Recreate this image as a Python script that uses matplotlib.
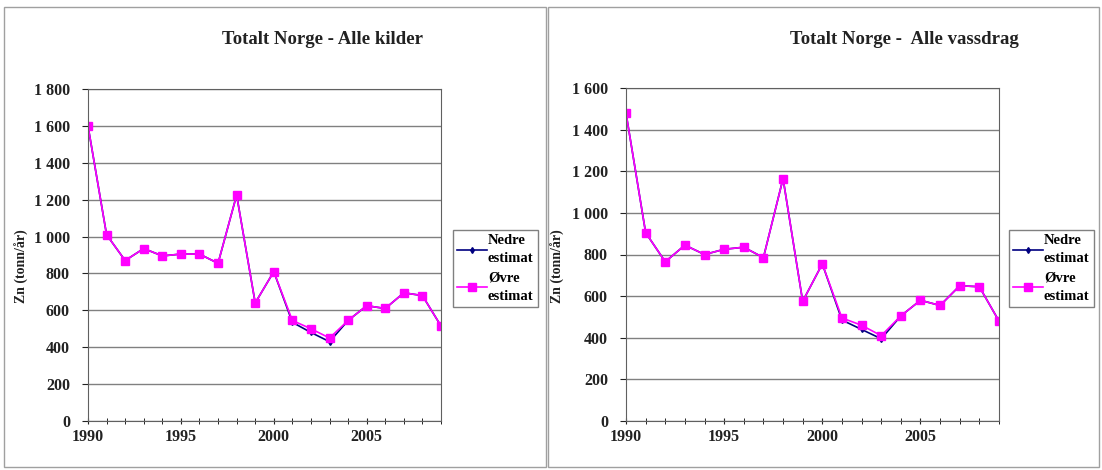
import numpy as np
import matplotlib.pyplot as plt
from matplotlib.patches import Rectangle
from matplotlib.ticker import FuncFormatter, MultipleLocator

# years
years = np.arange(1990, 2010)

# Totalt Norge - Alle kilder (tonn/år)
kilder_ovre = [1600, 1010, 870, 935, 895, 905, 905, 855, 1225, 640,
               810, 545, 500, 450, 545, 625, 610, 695, 680, 515]
kilder_nedre = [1600, 1010, 870, 935, 895, 905, 905, 855, 1225, 640,
                810, 535, 480, 430, 545, 625, 610, 695, 680, 515]

# Totalt Norge - Alle vassdrag (tonn/år)
vassdrag_ovre = [1480, 905, 765, 845, 800, 825, 835, 785, 1165, 575,
                 755, 495, 460, 410, 505, 580, 555, 650, 645, 480]
vassdrag_nedre = [1480, 905, 765, 845, 800, 825, 835, 785, 1165, 575,
                  755, 485, 440, 395, 505, 580, 555, 650, 645, 480]

titles = ["Totalt Norge - Alle kilder", "Totalt Norge -  Alle vassdrag"]
ylabel = "Zn (tonn/år)"
xticks = [1990, 1995, 2000, 2005]

plt.rcParams['font.family'] = ['Liberation Serif', 'DejaVu Serif']
plt.rcParams['font.weight'] = 'bold'

W, H = 1102, 470
fig = plt.figure(figsize=(W / 100, H / 100), dpi=100)


def px(x0, y0, x1, y1):
    # pixel box -> figure fraction [left, bottom, width, height]
    return [x0 / W, 1 - y1 / H, (x1 - x0) / W, (y1 - y0) / H]


# panel borders
for bx in [(4, 7, 546, 467), (548, 7, 1099, 467)]:
    l, b, w, h = px(*bx)
    fig.patches.append(Rectangle((l, b), w, h, transform=fig.transFigure,
                                 fill=False, edgecolor='#a0a0a0', lw=1))

fmt = FuncFormatter(lambda v, p: f"{int(v):,}".replace(",", " "))

panels = [
    (px(88, 89, 441, 421), kilder_nedre, kilder_ovre, 1800, 322, 22, 453),
    (px(626, 88, 999, 421), vassdrag_nedre, vassdrag_ovre, 1600, 904, 558, 1009),
]

for i, (box, nedre, ovre, ymax, tx, lx, legx) in enumerate(panels):
    ax = fig.add_axes(box)
    ax.plot(years, nedre, color='#000080', marker='d', markersize=3,
            lw=1.2, label='Nedre\nestimat')
    ax.plot(years, ovre, color='#ff00ff', marker='s', markersize=5.5,
            lw=1.2, label='Øvre\nestimat')
    ax.set_xlim(1990, 2009)
    ax.set_ylim(0, ymax)
    ax.yaxis.set_major_locator(MultipleLocator(200))
    ax.yaxis.set_major_formatter(fmt)
    ax.set_xticks(xticks)
    ax.xaxis.set_minor_locator(MultipleLocator(1))
    ax.tick_params(axis='both', labelsize=11.5, colors='#222222', length=4,
                   direction='out')
    ax.tick_params(axis='y', pad=9)
    ax.tick_params(axis='x', which='both', direction='inout', length=5)
    ax.grid(axis='y', color='#808080', lw=1)
    for s in ax.spines.values():
        s.set_color('#606060')
    fig.text(tx / W, 1 - 39 / H, titles[i], ha='center', va='center',
             fontsize=13.5, fontweight='bold', color='#222222')
    fig.text(lx / W, 1 - 266 / H, ylabel, ha='center', va='center',
             rotation=90, fontsize=10, fontweight='bold', color='#222222')
    leg = fig.legend(*ax.get_legend_handles_labels(), loc='upper left',
                     bbox_to_anchor=(legx / W, 1 - 230 / H), fontsize=10.5,
                     fancybox=False, edgecolor='#808080', framealpha=1,
                     handlelength=2.0, handletextpad=0.1, borderpad=0.3,
                     labelspacing=0.45, borderaxespad=0)
    for t in leg.get_texts():
        t.set_linespacing(1.5)

fig.savefig('out.png', dpi=100)
